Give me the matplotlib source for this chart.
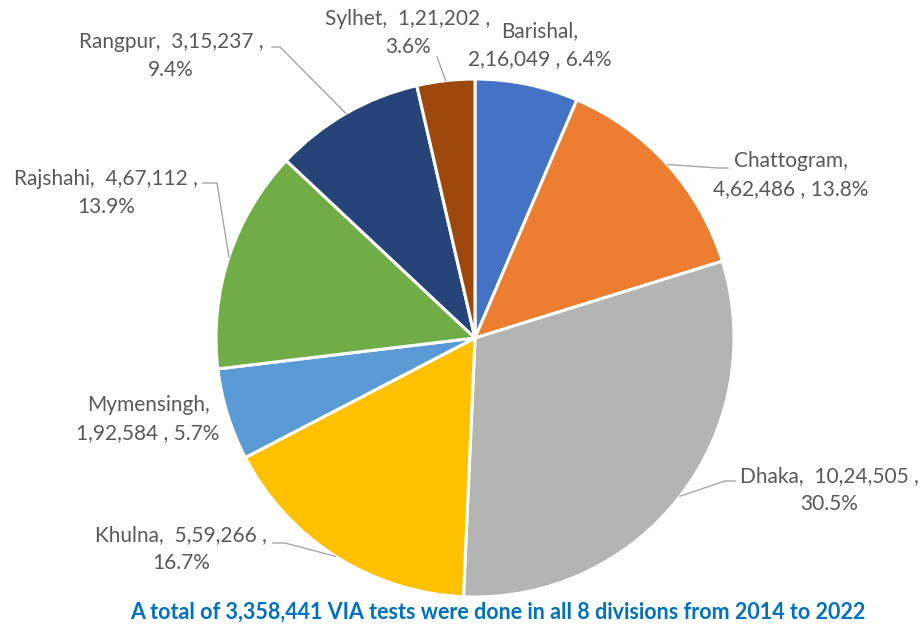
import matplotlib
matplotlib.use("Agg")
import numpy as np
import matplotlib.pyplot as plt

# data
divisions = ["Barishal", "Chattogram", "Dhaka", "Khulna",
             "Mymensingh", "Rajshahi", "Rangpur", "Sylhet"]
tests = [216049, 462486, 1024505, 559266, 192584, 467112, 315237, 121202]
value_text = ["2,16,049", "4,62,486", "10,24,505", "5,59,266",
              "1,92,584", "4,67,112", "3,15,237", "1,21,202"]
colors = ["#4472C4", "#ED7D31", "#B4B4B4", "#FFC000",
          "#5B9BD5", "#70AD47", "#264478", "#9E480E"]
title = "A total of 3,358,441 VIA tests were done in all 8 divisions from 2014 to 2022"

# layout (pixel coords, y from top)
W, H = 922, 630
cx, cy, R = 475, 338, 259
label_pos = [(540, 45), (791, 175), (829, 490), (181, 549),
             (148, 419), (106, 193), (171, 56), (408, 33)]
label_fmt = ["{n},\n{v} , {p}", "{n},\n{v} , {p}", "{n},  {v} ,\n{p}", "{n},  {v} ,\n{p}",
             "{n},\n{v} , {p}", "{n},  {v} ,\n{p}", "{n},  {v} ,\n{p}", "{n},  {v} ,\n{p}"]
line_gap = 28
# leader elbows (None = no leader line)
leaders = [None, [(718, 168), (728, 168)], [(725, 481), (735, 481)],
           [(285, 543), (273, 543)], None, [(217, 183), (203, 183)],
           [(280, 47), (272, 47)], [(437, 57)]]

plt.rcParams['font.family'] = ['Lato', 'DejaVu Sans']

fig = plt.figure(figsize=(W / 100, H / 100), dpi=100)
ax = fig.add_axes([0, 0, 1, 1])
ax.set_xlim(0, W)
ax.set_ylim(0, H)
ax.set_aspect('equal')
ax.axis('off')

def fy(y):
    return H - y

ax.pie(tests, colors=colors, startangle=90, counterclock=False,
       center=(cx, fy(cy)), radius=R,
       wedgeprops=dict(edgecolor='white', linewidth=2.2))
ax.set_xlim(0, W)
ax.set_ylim(0, H)

total = sum(tests)
cum = np.cumsum([0] + tests)
for i, name in enumerate(divisions):
    pct = "{:.1f}%".format(tests[i] / total * 100)
    lines = label_fmt[i].format(n=name, v=value_text[i], p=pct).split("\n")
    lx, ly = label_pos[i]
    y0 = ly - line_gap * (len(lines) - 1) / 2
    for k, line in enumerate(lines):
        ax.text(lx, fy(y0 + k * line_gap), line, ha='center', va='center',
                fontsize=15, color='#595959')
    if leaders[i] is not None:
        mid = (cum[i] + cum[i + 1]) / 2 / total * 2 * np.pi
        ex = cx + R * np.sin(mid)
        ey = cy - R * np.cos(mid)
        pts = [(ex, ey)] + leaders[i]
        ax.plot([p[0] for p in pts], [fy(p[1]) for p in pts],
                color='#A6A6A6', linewidth=1)

ax.text(498, fy(612), title, ha='center', va='center', fontsize=15.5,
        fontweight='bold', color='#0070C0')

fig.savefig("out.png", dpi=100)
